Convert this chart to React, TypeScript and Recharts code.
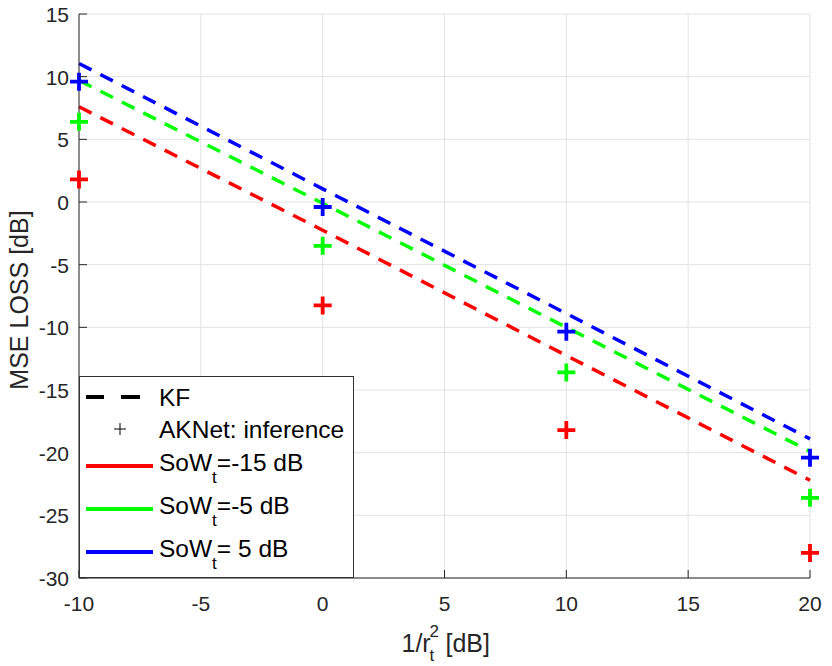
import React from "react";
import { ComposedChart, Line, XAxis, YAxis, CartesianGrid, Label } from "recharts";

const xs = [-10, 0, 10, 20];
const kfRed = [7.6, -2.25, -12.25, -22.2];
const kfGreen = [9.7, -0.1, -10.0, -19.9];
const kfBlue = [11.05, 1.05, -8.9, -18.9];
const akRed = [1.8, -8.25, -18.2, -28.0];
const akGreen = [6.4, -3.5, -13.6, -23.6];
const akBlue = [9.6, -0.4, -10.35, -20.4];

const xTicks = [-10, -5, 0, 5, 10, 15, 20];
const yTicks = [-30, -25, -20, -15, -10, -5, 0, 5, 10, 15];

const RED = "#ff0000";
const GREEN = "#00ff00";
const BLUE = "#0000ff";
const AX = "#262626";
const FONT = "'Liberation Sans', Arial, Helvetica, sans-serif";

const data = xs.map((x, i) => ({
  x,
  kfRed: kfRed[i],
  kfGreen: kfGreen[i],
  kfBlue: kfBlue[i],
  akRed: akRed[i],
  akGreen: akGreen[i],
  akBlue: akBlue[i],
}));

const makePlus = (color: string) => (props: any) => {
  const { cx, cy, index } = props;
  if (cx == null || cy == null) return <g key={index} />;
  const h = 9;
  return (
    <path
      key={index}
      d={`M${cx - h},${cy}H${cx + h}M${cx},${cy - h}V${cy + h}`}
      stroke={color}
      strokeWidth={3.8}
      fill="none"
    />
  );
};

const XTick = (props: any) => {
  const { x, y, payload } = props;
  return (
    <g>
      <line x1={x} x2={x} y1={y} y2={y - 8} stroke={AX} strokeWidth={1} />
      <text x={x} y={y + 33} textAnchor="middle" fontSize={21} fill={AX} fontFamily={FONT}>
        {payload.value}
      </text>
    </g>
  );
};

const YTick = (props: any) => {
  const { x, y, payload } = props;
  return (
    <g>
      <line x1={x} x2={x + 8} y1={y} y2={y} stroke={AX} strokeWidth={1} />
      <text x={x - 10} y={y + 8} textAnchor="end" fontSize={21} fill={AX} fontFamily={FONT}>
        {payload.value}
      </text>
    </g>
  );
};

const XLabel = (props: any) => {
  const vb = props.viewBox || { x: 79, y: 578, width: 731, height: 88 };
  const cx = vb.x + vb.width / 2;
  const base = vb.y + 74;
  const x0 = cx - 43;
  return (
    <text fontFamily={FONT} fill={AX} fontSize={25}>
      <tspan x={x0} y={base}>1/r</tspan>
      <tspan x={x0 + 28} y={base + 9} fontSize={17}>t</tspan>
      <tspan x={x0 + 28} y={base - 15} fontSize={17}>2</tspan>
      <tspan x={x0 + 37} y={base}> [dB]</tspan>
    </text>
  );
};

const YLabel = (props: any) => {
  const vb = props.viewBox || { x: 0, y: 14, width: 79, height: 564 };
  const cy = vb.y + vb.height / 2 + 4;
  const tx = vb.x + 28;
  return (
    <text
      x={tx}
      y={cy}
      transform={`rotate(-90 ${tx} ${cy})`}
      textAnchor="middle"
      fontFamily={FONT}
      fill={AX}
      fontSize={25}
    >
      MSE LOSS [dB]
    </text>
  );
};

const LegendOverlay = () => {
  const rows = [
    { color: RED, label: "=-15 dB", y: 466 },
    { color: GREEN, label: "=-5 dB", y: 509 },
    { color: BLUE, label: "= 5 dB", y: 552 },
  ];
  return (
    <svg
      width={832}
      height={666}
      style={{ position: "absolute", left: 0, top: 0, pointerEvents: "none" }}
    >
      <rect x={79.5} y={376.5} width={274} height={201} fill="#ffffff" stroke="#333333" strokeWidth={1} />
      <line x1={86} x2={104} y1={397} y2={397} stroke="#000" strokeWidth={4} />
      <line x1={121} x2={140} y1={397} y2={397} stroke="#000" strokeWidth={4} />
      <text x={159} y={406} fontSize={24.5} fontFamily={FONT} fill="#000">KF</text>
      <path d="M114,429H126M120,423V435" stroke="#000" strokeWidth={1} fill="none" />
      <text x={159} y={438} fontSize={24.5} fontFamily={FONT} fill="#000">AKNet: inference</text>
      {rows.map((r) => (
        <g key={r.label}>
          <line x1={86} x2={153} y1={r.y} y2={r.y} stroke={r.color} strokeWidth={4} />
          <text x={159} y={r.y + 5} fontSize={24.5} fontFamily={FONT} fill="#000">
            SoW
            <tspan dy={12} fontSize={17}>t</tspan>
            <tspan dy={-12} fontSize={24.5}>{r.label}</tspan>
          </text>
        </g>
      ))}
    </svg>
  );
};

export default function App() {
  return (
    <div style={{ position: "absolute", left: 0, top: 0, width: 832, height: 666, background: "#fff" }}>
      <ComposedChart
        width={832}
        height={666}
        data={data}
        margin={{ top: 14, right: 22, bottom: 0, left: 0 }}
      >
        <CartesianGrid stroke="#e2e2e2" strokeWidth={1} />
        <XAxis
          type="number"
          dataKey="x"
          domain={[-10, 20]}
          ticks={xTicks}
          height={88}
          tickSize={0}
          tickMargin={0}
          tickLine={false}
          axisLine={{ stroke: AX, strokeWidth: 1 }}
          tick={<XTick />}
          interval={0}
        >
          <Label content={<XLabel />} />
        </XAxis>
        <YAxis
          type="number"
          domain={[-30, 15]}
          ticks={yTicks}
          width={79}
          tickSize={0}
          tickMargin={0}
          tickLine={false}
          axisLine={{ stroke: AX, strokeWidth: 1 }}
          tick={<YTick />}
          interval={0}
        >
          <Label content={<YLabel />} />
        </YAxis>
        <Line dataKey="kfRed" stroke={RED} strokeWidth={3.5} strokeDasharray="14 10" dot={false} activeDot={false} isAnimationActive={false} />
        <Line dataKey="kfGreen" stroke={GREEN} strokeWidth={3.5} strokeDasharray="14 10" dot={false} activeDot={false} isAnimationActive={false} />
        <Line dataKey="kfBlue" stroke={BLUE} strokeWidth={3.5} strokeDasharray="14 10" dot={false} activeDot={false} isAnimationActive={false} />
        <Line dataKey="akRed" stroke="none" dot={makePlus(RED)} activeDot={false} isAnimationActive={false} />
        <Line dataKey="akGreen" stroke="none" dot={makePlus(GREEN)} activeDot={false} isAnimationActive={false} />
        <Line dataKey="akBlue" stroke="none" dot={makePlus(BLUE)} activeDot={false} isAnimationActive={false} />
      </ComposedChart>
      <LegendOverlay />
    </div>
  );
}
